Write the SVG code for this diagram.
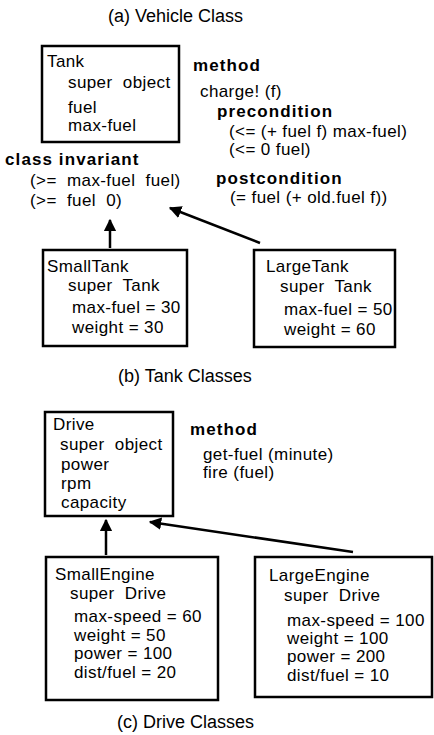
<svg xmlns="http://www.w3.org/2000/svg" width="434" height="735" viewBox="0 0 434 735">
<style>
text{font-family:"Liberation Sans",Arial,sans-serif;font-size:17px;letter-spacing:0.4px;fill:#000}
.b{font-weight:bold;letter-spacing:1.1px}
.h{font-size:18px;letter-spacing:0}
.box{fill:none;stroke:#000;stroke-width:2.5}
.edge{stroke:#000;stroke-width:2.5;fill:none;marker-end:url(#ah)}
</style>
<defs>
<marker id="ah" viewBox="0 0 10 10" refX="9" refY="5" markerWidth="5" markerHeight="5" orient="auto" markerUnits="strokeWidth">
<path d="M0,0 L10,5 L0,10 z" fill="#000"/>
</marker>
</defs>
<rect width="434" height="735" fill="#fff"/>
<text class="h" x="108" y="22">(a) Vehicle Class</text>
<g id="tank">
<rect class="box" x="42" y="46" width="137" height="96"/>
<text x="47" y="67">Tank</text>
<text x="68" y="88" xml:space="preserve">super  object</text>
<text x="68" y="113">fuel</text>
<text x="68" y="131">max-fuel</text>
</g>
<g id="tank-method">
<text class="b" x="193" y="71">method</text>
<text x="200" y="97">charge! (f)</text>
<text class="b" x="217" y="117">precondition</text>
<text x="229" y="137">(&lt;= (+ fuel f) max-fuel)</text>
<text x="229" y="155">(&lt;= 0 fuel)</text>
<text class="b" x="216" y="184">postcondition</text>
<text x="230" y="203">(= fuel (+ old.fuel f))</text>
</g>
<g id="class-invariant">
<text class="b" x="5" y="165">class invariant</text>
<text x="30" y="186" xml:space="preserve">(&gt;=  max-fuel  fuel)</text>
<text x="30" y="206" xml:space="preserve">(&gt;=  fuel  0)</text>
</g>
<g id="smalltank">
<rect class="box" x="43" y="250" width="144" height="96"/>
<text x="47" y="272">SmallTank</text>
<text x="68" y="291" xml:space="preserve">super  Tank</text>
<text x="72" y="313">max-fuel = 30</text>
<text x="72" y="333">weight = 30</text>
</g>
<g id="largetank">
<rect class="box" x="254" y="250" width="141" height="97"/>
<text x="266" y="272">LargeTank</text>
<text x="280" y="292" xml:space="preserve">super  Tank</text>
<text x="284" y="315">max-fuel = 50</text>
<text x="284" y="335">weight = 60</text>
</g>
<text class="h" x="118" y="382">(b) Tank Classes</text>
<g id="drive">
<rect class="box" x="45" y="412" width="128" height="104"/>
<text x="53" y="430">Drive</text>
<text x="60" y="450" xml:space="preserve">super  object</text>
<text x="61" y="470">power</text>
<text x="61" y="489">rpm</text>
<text x="61" y="508">capacity</text>
</g>
<g id="drive-method">
<text class="b" x="190" y="435">method</text>
<text x="203" y="460">get-fuel (minute)</text>
<text x="203" y="478">fire (fuel)</text>
</g>
<g id="smallengine">
<rect class="box" x="46" y="557" width="172" height="143"/>
<text x="55" y="580">SmallEngine</text>
<text x="70" y="599" xml:space="preserve">super  Drive</text>
<text x="74" y="622">max-speed = 60</text>
<text x="74" y="641">weight = 50</text>
<text x="74" y="659">power = 100</text>
<text x="74" y="678">dist/fuel = 20</text>
</g>
<g id="largeengine">
<rect class="box" x="255" y="557" width="177" height="140"/>
<text x="269" y="581">LargeEngine</text>
<text x="284" y="601" xml:space="preserve">super  Drive</text>
<text x="287" y="626">max-speed = 100</text>
<text x="287" y="644">weight = 100</text>
<text x="287" y="662">power = 200</text>
<text x="287" y="681">dist/fuel = 10</text>
</g>
<text class="h" x="117" y="728">(c) Drive Classes</text>
<g id="connectors">
<line class="edge" x1="110" y1="248" x2="110" y2="220"/>
<line class="edge" x1="260" y1="243" x2="170" y2="208"/>
<line class="edge" x1="106" y1="555" x2="106" y2="520"/>
<line class="edge" x1="353" y1="552" x2="150" y2="522"/>
</g>
</svg>
